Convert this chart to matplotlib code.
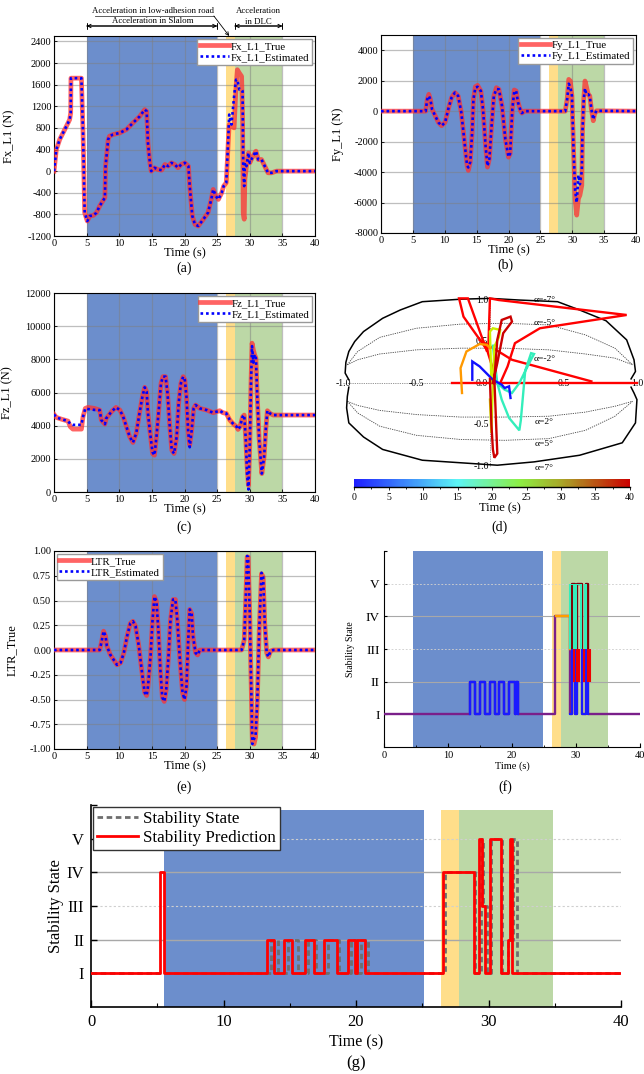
import matplotlib.pyplot as plt
import matplotlib.transforms as mtransforms
from matplotlib.colors import LinearSegmentedColormap, Normalize
from matplotlib.cm import ScalarMappable
from matplotlib.patches import Rectangle
from matplotlib.ticker import MultipleLocator, FormatStrFormatter

plt.rcParams['font.family'] = ['Liberation Serif', 'DejaVu Serif']
plt.rcParams['mathtext.fontset'] = 'stix'
plt.rcParams['axes.unicode_minus'] = False

# ---------------- data ----------------
t_fx = [0, 0.36, 0.87, 1.9, 2.4, 2.56, 2.6, 4.2, 4.45, 4.7, 5.1, 5.5, 6.0, 6.5, 7.0, 7.8, 7.9, 8.3,
        8.5, 9.05, 10.1, 11.1, 12.1, 13.15, 13.9, 14.2, 14.4, 14.7, 14.9, 15.4, 15.9, 16.5, 17.0,
        17.5, 18.0, 18.5, 19.0, 19.5, 20.05, 20.6, 20.8, 21.2, 21.6, 22.1, 22.9, 23.6, 24.1, 24.4,
        24.8, 25.2, 25.7, 26.0, 26.4, 26.7, 26.85, 27.2, 27.6, 27.9, 28.1, 28.4, 28.75, 28.9, 29.0,
        29.15, 29.25, 29.5, 29.8, 30.0, 30.5, 30.95, 31.3, 31.8, 32.3, 32.8, 33.35, 34.1, 40]
fx_true = [0, 400, 585, 830, 954, 1077, 1720, 1720, 708, -770, -923, -830, -820, -770, -646, -490,
           92, 585, 646, 677, 708, 770, 892, 1015, 1138, 1108, 523, 154, 0, 62, 31, 18, 123, 92,
           154, 123, 62, 123, 154, 92, -277, -830, -985, -1015, -890, -770, -523, -338, -461, -523,
           -400, -277, -215, 523, 862, 830, 800, 1570, 1877, 1815, 1754, 1015, -770, -890, -154,
           92, 338, 154, 277, 370, 215, 215, 92, -31, -31, 0, 0]
fx_est = [0, 400, 585, 830, 954, 1077, 1720, 1720, 708, -770, -923, -830, -820, -770, -646, -490,
          92, 585, 646, 677, 708, 770, 892, 1015, 1138, 1108, 523, 154, 0, 62, 31, 18, 123, 92,
          154, 123, 62, 123, 154, 92, -277, -830, -985, -1015, -890, -770, -523, -338, -461, -523,
          -400, -277, -215, 585, 1046, 862, 1385, 1692, 1692, 1508, 1508, 1480, 92, -277, 154,
          92, 338, 154, 277, 370, 215, 215, 92, -31, -31, 0, 0]

t_fy = [0, 7.0, 7.25, 7.5, 7.75, 8.0, 8.5, 9.0, 9.5, 10.05, 10.55, 11.07, 11.6, 12.1, 12.6, 13.1,
        13.5, 13.7, 14.0, 14.3, 14.5, 14.8, 15.15, 15.66, 16.0, 16.4, 16.7, 17.0, 17.35, 17.7,
        18.1, 18.5, 18.98, 19.5, 20.0, 20.25, 20.6, 20.9, 21.2, 21.5, 21.9, 22.1, 22.5, 28.9,
        29.2, 29.45, 29.7, 29.95, 30.2, 30.45, 30.7, 30.97, 31.2, 31.5, 31.6, 31.8, 32.0, 32.2,
        32.5, 32.75, 33.0, 33.3, 33.5, 33.8, 40]
fy_true = [0, 0, 783, 1109, 783, 130, -304, -739, -957, -739, 130, 891, 1217, 1000, -87, -2043,
           -3565, -3891, -3348, -1391, 783, 1609, 1696, 1326, 130, -2261, -3674, -3130, -957,
           1000, 1543, 1435, 348, -1826, -3022, -2804, 130, 1391, 1326, 565, 22, -130, 0, 0, 783,
           2087, 1978, 1000, -2478, -5739, -6826, -5739, -5522, -4870, -1391, 783, 1978, 1652,
           1109, 1000, 130, -630, -196, 22, 0]
fy_est = [0, 0, 783, 1000, 783, 130, -304, -739, -957, -739, 130, 891, 1217, 1000, -87, -2043,
          -3565, -3700, -3348, -1391, 783, 1550, 1600, 1326, 130, -2261, -3600, -3130, -957,
          1000, 1450, 1435, 348, -1826, -3000, -2804, 130, 1300, 1326, 565, 22, -130, 0, 0, 783,
          1800, 1600, 1000, -2478, -5200, -6000, -4200, -4800, -3900, -1391, 783, 1500, 1100,
          1109, 1000, 130, -550, -196, 22, 0]

t_fz = [0, 0.36, 1.1, 2.15, 2.5, 2.9, 4.2, 4.45, 4.8, 5.2, 6.2, 7.0, 7.25, 7.8, 8.0, 8.8, 9.5, 10.1,
        10.6, 11.1, 11.6, 12.1, 12.6, 13.1, 13.55, 13.9, 14.2, 14.4, 14.8, 15.1, 15.4, 15.7, 16.1,
        16.4, 16.7, 17.1, 17.4, 17.75, 18.05, 18.4, 18.8, 19.1, 19.45, 19.8, 20.05, 20.3, 20.55,
        20.8, 21.1, 21.4, 21.7, 22.35, 23.4, 24.4, 24.9, 25.4, 25.9, 26.4, 26.95, 27.5, 28.0,
        28.2, 28.5, 28.9, 29.15, 29.4, 29.6, 29.8, 30.0, 30.2, 30.35, 30.55, 30.75, 30.95, 31.15,
        31.45, 31.85, 32.2, 32.45, 32.7, 33.1, 33.6, 40]
fz_true = [4679, 4498, 4397, 4276, 3933, 3792, 3792, 4538, 5042, 5103, 5042, 4941, 4336, 4094,
           4437, 4841, 5103, 4941, 4538, 3933, 3328, 2985, 3530, 4740, 5749, 6313, 6051, 4740,
           3328, 2319, 2219, 3328, 5143, 6555, 6958, 6958, 5950, 3933, 2521, 2319, 3328, 5345,
           6555, 6958, 6757, 5749, 3731, 2824, 3731, 5042, 5244, 5042, 4941, 4780, 4841, 4901,
           4780, 4740, 4336, 4094, 3933, 3772, 3933, 4538, 4639, 3126, 1513, 403, 2723, 6757,
           8975, 8572, 8269, 8068, 5749, 3126, 1109, 2118, 3731, 4901, 4740, 4639, 4639]
fz_est = [4679, 4498, 4397, 4276, 4100, 4050, 4050, 4538, 5042, 5000, 4950, 4941, 4336, 4094,
          4437, 4841, 5103, 4941, 4538, 3933, 3328, 2985, 3530, 4740, 5749, 6313, 6051, 4740,
          3328, 2400, 2219, 3328, 5143, 6555, 6958, 6958, 5950, 3933, 2521, 2319, 3328, 5345,
          6555, 6958, 6757, 5749, 3731, 2700, 3731, 5042, 5244, 5042, 4941, 4780, 4841, 4901,
          4780, 4740, 4336, 4094, 3933, 3772, 3933, 4538, 4639, 3126, 1000, 150, 2723, 6757,
          8800, 7800, 8300, 8068, 5749, 3126, 1109, 2118, 3731, 4901, 4740, 4639, 4639]

t_ltr = [0, 7.0, 7.25, 7.6, 7.9, 8.1, 8.65, 9.15, 9.65, 10.2, 10.7, 11.2, 11.7, 12.1, 12.5, 13.0,
         13.55, 13.9, 14.2, 14.4, 14.8, 15.1, 15.4, 15.7, 16.0, 16.3, 16.6, 16.9, 17.2, 17.55,
         17.85, 18.25, 18.6, 18.9, 19.3, 19.7, 20.0, 20.3, 20.55, 20.8, 21.1, 21.3, 21.7, 22.0,
         22.35, 28.75, 29.15, 29.4, 29.6, 29.75, 30.0, 30.2, 30.4, 30.65, 30.9, 31.15, 31.45,
         31.8, 32.05, 32.3, 32.6, 32.85, 33.2, 33.6, 40]
ltr_true = [0, 0, 0.07, 0.19, 0.14, 0.04, -0.05, -0.10, -0.15, -0.13, -0.03, 0.14, 0.27, 0.29,
            0.24, 0.04, -0.26, -0.43, -0.46, -0.37, -0.06, 0.30, 0.54, 0.49, 0.20, -0.20, -0.48,
            -0.52, -0.40, -0.06, 0.30, 0.51, 0.51, 0.30, -0.10, -0.43, -0.50, -0.37, 0.07, 0.41,
            0.37, 0.14, -0.03, -0.05, 0, 0, 0.10, 0.54, 0.94, 0.94, 0.37, -0.30, -0.93, -0.95,
            -0.88, -0.53, 0.20, 0.77, 0.74, 0.27, -0.03, -0.07, -0.01, 0, 0]
ltr_est = [0, 0, 0.07, 0.19, 0.14, 0.04, -0.05, -0.10, -0.15, -0.13, -0.03, 0.14, 0.27, 0.29,
           0.24, 0.04, -0.26, -0.43, -0.46, -0.37, -0.06, 0.30, 0.54, 0.49, 0.20, -0.20, -0.48,
           -0.52, -0.40, -0.06, 0.30, 0.51, 0.51, 0.30, -0.10, -0.43, -0.50, -0.37, 0.07, 0.41,
           0.37, 0.14, -0.03, -0.05, 0, 0, 0.10, 0.54, 0.95, 0.94, 0.37, -0.30, -0.95, -0.90,
           -0.86, -0.53, 0.20, 0.78, 0.74, 0.27, -0.03, -0.07, -0.01, 0, 0]

# (d) stability-region boundary, iso-slip curves and the trajectory pieces
bnd_up_x = [-0.96, -0.985, -0.98, -0.96, -0.92, -0.86, -0.73, -0.61, -0.46, -0.2, 0.0, 0.2, 0.46,
            0.61, 0.79, 0.93, 0.98, 0.99, 0.96]
bnd_up_y = [0.04, 0.12, 0.25, 0.38, 0.5, 0.62, 0.78, 0.88, 0.98, 1.01, 1.02, 1.0, 0.98, 0.88,
            0.75, 0.52, 0.28, 0.14, 0.05]
bnd_lo_x = [-0.96, -0.97, -0.975, -0.96, -0.86, -0.73, -0.46, -0.12, 0.05, 0.3, 0.61, 0.9, 0.99,
            1.0, 0.98, 0.96]
bnd_lo_y = [-0.05, -0.16, -0.3, -0.48, -0.65, -0.8, -0.93, -0.97, -0.99, -0.95, -0.87, -0.72,
            -0.48, -0.2, -0.12, -0.05]
iso_x = [-0.97, -0.9, -0.75, -0.5, -0.2, 0.1, 0.4, 0.65, 0.85, 0.97]
iso_curves_y = [
    [0.22, 0.38, 0.55, 0.66, 0.71, 0.72, 0.70, 0.58, 0.42, 0.22],
    [0.22, 0.28, 0.35, 0.40, 0.42, 0.42, 0.40, 0.35, 0.30, 0.22],
    [-0.22, -0.27, -0.33, -0.38, -0.41, -0.41, -0.40, -0.35, -0.28, -0.22],
    [-0.22, -0.36, -0.52, -0.63, -0.68, -0.69, -0.67, -0.57, -0.40, -0.22],
]
iso_labels = ['α=-7°', 'α=-5°', 'α=-2°', 'α=2°', 'α=5°', 'α=7°']
iso_label_y = [1.0, 0.72, 0.29, -0.47, -0.74, -1.02]

traj_pieces = [
    ('#ff0000', [-0.26, 1.0], [0.0, 0.0]),
    ('#ff0000', [0.05, -0.02, -0.18, -0.21, -0.15, -0.02, -0.01, 0.0, 0.06, 0.93, 0.34, 0.17, 0.12, 0.07],
                [0.0, 0.4, 0.8, 1.02, 1.02, 0.38, 0.48, 1.02, 1.0, 0.82, 0.66, 0.48, 0.2, 0.0]),
    ('#ff0000', [-0.07, 0.15, 0.69], [0.52, 0.28, 0.02]),
    ('#33eebb', [0.02, 0.05, 0.08, 0.13, 0.2, 0.21, 0.24, 0.28, 0.3, 0.27, 0.2, 0.15, 0.1, 0.05],
                [0.45, 0.0, -0.2, -0.42, -0.57, -0.45, 0.15, 0.36, 0.35, 0.25, 0.0, -0.12, -0.08, 0.0]),
    ('#ccee00', [0.01, 0.0, 0.02, 0.07, 0.06, 0.03, 0.02, 0.01, 0.0],
                [0.0, 0.62, 0.66, 0.64, 0.55, 0.44, 0.0, -0.6, -0.2]),
    ('#ff9900', [-0.19, -0.2, -0.16, -0.07, -0.02, 0.0], [-0.12, 0.18, 0.38, 0.47, 0.46, 0.42]),
    ('#1010ff', [-0.12, -0.12, -0.07, 0.02, 0.08, 0.10, 0.13, 0.14],
                [0.04, 0.26, 0.2, 0.04, -0.02, -0.06, -0.04, -0.18]),
    ('#cc0000', [0.0, 0.01, 0.02, 0.03, 0.05, 0.04, 0.03, 0.05, 0.08, 0.14, 0.15, 0.09, 0.05, 0.02],
                [0.05, -0.5, -0.8, -0.9, -0.85, -0.4, 0.05, 0.52, 0.76, 0.8, 0.74, 0.6, 0.24, 0.0]),
]
cbar_colors = [(0.0, '#1e1eff'), (0.375, '#5cf5f5'), (0.6, '#8cee44'), (0.75, '#a8a828'),
               (1.0, '#cc0000')]

# (f) stability state coloured by time
f_t = [0, 13.4, 14.2, 15.0, 15.8, 16.5, 17.3, 18.0, 18.8, 19.6, 20.4, 20.6, 21.0, 26.7, 29.1,
       29.4, 29.9, 30.2, 31.0, 31.6, 31.9, 40]
f_v = [1, 2, 1, 2, 1, 2, 1, 2, 1, 2, 1, 2, 1, 4, 1, 5, 1, 5, 1, 5, 1, 1]
f_orange_t = [26.8, 29.1, 29.1]
f_orange_v = [4, 4, 3]

# (g) stability state vs prediction
g_state_t = [0, 13.6, 14.1, 14.9, 15.6, 16.4, 17.0, 17.9, 18.7, 19.6, 20.1, 20.4, 20.9, 26.75,
             29.0, 29.4, 29.6, 29.85, 30.2, 31.0, 31.5, 31.85, 32.15, 40]
g_state_v = [1, 2, 1, 2, 1, 2, 1, 2, 1, 2, 1, 2, 1, 4, 1, 5, 3, 1, 5, 1, 2, 5, 1, 1]
g_pred_t = [0, 5.2, 5.5, 13.3, 13.8, 14.6, 15.2, 16.15, 16.8, 17.6, 18.6, 19.4, 19.9, 20.05,
            20.65, 26.55, 28.9, 29.3, 29.5, 29.75, 30.1, 30.95, 31.45, 31.65, 31.8, 40]
g_pred_v = [1, 4, 1, 2, 1, 2, 1, 2, 1, 2, 1, 2, 1, 2, 1, 4, 1, 5, 3, 1, 5, 1, 2, 5, 1, 1]
state_labels = ['I', 'II', 'III', 'IV', 'V']

BLUE, YELLOW, GREEN = '#6c8ecc', '#ffde8a', '#bcd8a6'
spans_ts = [(5, 25, BLUE), (26.3, 27.7, YELLOW), (27.7, 35, GREEN)]
spans_f = [(4.5, 24.8, BLUE), (26.2, 27.6, YELLOW), (27.6, 35, GREEN)]
spans_g = [(5.5, 25.1, BLUE), (26.4, 27.8, YELLOW), (27.8, 34.9, GREEN)]

# ---------------- figure ----------------
W, H = 644, 1074
fig = plt.figure(figsize=(W / 100, H / 100), dpi=100)


def px_axes(l, t, r, b):
    return fig.add_axes([l / W, 1 - b / H, (r - l) / W, (b - t) / H])


def px_text(x, y, s, size, **kw):
    fig.text(x / W, 1 - y / H, s, fontsize=size, ha='center', va='center', **kw)


def series_panel(ax, t, y_true, y_est, names, ylim, yticks, ylabel, loc, ylab_x):
    for a, b, c in spans_ts:
        ax.axvspan(a, b, color=c, lw=0, zorder=0)
    ax.plot(t, y_true, color='#ff3030', lw=3.4, alpha=0.75, label=names[0], zorder=3)
    ax.plot(t, y_est, color='#0000ff', lw=1.9, ls=(0, (1, 1.1)), label=names[1], zorder=4)
    ax.set_xlim(0, 40)
    ax.set_ylim(*ylim)
    ax.set_xticks(range(0, 41, 5))
    ax.set_yticks(yticks)
    ax.grid(True, color='#7f7f7f', alpha=0.5, lw=0.9)
    ax.tick_params(labelsize=7.5, direction='in', length=2, width=0.6, pad=2)
    for s in ax.spines.values():
        s.set_linewidth(0.8)
    ax.set_ylabel(ylabel, fontsize=9)
    ax.yaxis.set_label_coords(ylab_x, 0.5)
    ax.set_xlabel('Time (s)', fontsize=9, labelpad=0)
    ax.legend(loc=loc, fontsize=7.8, fancybox=False, edgecolor='#999999', framealpha=1,
              handlelength=2.7, borderpad=0.25, labelspacing=0.15, handletextpad=0.2,
              borderaxespad=0.25)


# (a)
ax_a = px_axes(54, 36, 315, 236)
series_panel(ax_a, t_fx, fx_true, fx_est, ['Fx_L1_True', 'Fx_L1_Estimated'], (-1200, 2500),
             range(-1200, 2401, 400), 'Fx_L1 (N)', 'upper right', -0.15)
px_text(184, 268, '(a)', 10)
tr = ax_a.get_xaxis_transform()
for x0, x1 in [(5, 25), (27.7, 35)]:
    ax_a.annotate('', xy=(x0, 1.05), xytext=(x1, 1.05), xycoords=tr, textcoords=tr,
                  arrowprops=dict(arrowstyle='<->', lw=0.7, color='k', shrinkA=0, shrinkB=0,
                                  mutation_scale=6), annotation_clip=False)
    ax_a.annotate('', xy=(x0, 1.05), xytext=(x1, 1.05), xycoords=tr, textcoords=tr,
                  arrowprops=dict(arrowstyle='|-|,widthA=0.2,widthB=0.2', lw=0.7, color='k',
                                  shrinkA=0, shrinkB=0), annotation_clip=False)
ax_a.text(15.2, 1.075, 'Acceleration in Slalom', transform=tr, ha='center', va='center', fontsize=6.3)
ax_a.text(15.2, 1.125, 'Acceleration in low-adhesion road', transform=tr, ha='center', va='center',
          fontsize=6.3)
ax_a.plot([6.3, 24.5], [1.1, 1.1], transform=tr, color='#444444', lw=0.6, clip_on=False)
ax_a.annotate('', xy=(26.85, 1.0), xytext=(24.5, 1.1), xycoords=tr, textcoords=tr,
              arrowprops=dict(arrowstyle='->', lw=0.6, color='k', shrinkA=0, shrinkB=0,
                              mutation_scale=6), annotation_clip=False)
ax_a.text(31.35, 1.125, 'Acceleration', transform=tr, ha='center', va='center', fontsize=6.3)
ax_a.text(31.35, 1.072, 'in DLC', transform=tr, ha='center', va='center', fontsize=6.3)

# (b)
ax_b = px_axes(381, 35, 636, 233)
series_panel(ax_b, t_fy, fy_true, fy_est, ['Fy_L1_True', 'Fy_L1_Estimated'], (-8000, 5000),
             range(-8000, 4001, 2000), 'Fy_L1 (N)', 'upper right', -0.145)
px_text(505, 265, '(b)', 10)

# (c)
ax_c = px_axes(54, 293, 315, 492)
series_panel(ax_c, t_fz, fz_true, fz_est, ['Fz_L1_True', 'Fz_L1_Estimated'], (0, 12000),
             range(0, 12001, 2000), 'Fz_L1 (N)', 'upper right', -0.155)
px_text(184, 527, '(c)', 10)

# (e)
ax_e = px_axes(54, 551, 315, 749)
series_panel(ax_e, t_ltr, ltr_true, ltr_est, ['LTR_True', 'LTR_Estimated'], (-1, 1),
             [-1, -0.75, -0.5, -0.25, 0, 0.25, 0.5, 0.75, 1], 'LTR_True', 'upper left', -0.14)
ax_e.yaxis.set_major_formatter(FormatStrFormatter('%.2f'))
px_text(184, 787, '(e)', 10)

# (d)
ax_d = px_axes(330, 288, 644, 475)
ax_d.set_xlim(-1.088, 1.048)
ax_d.set_ylim(-1.108, 1.145)
ax_d.axis('off')
for cy in iso_curves_y:
    ax_d.plot(iso_x, cy, color='#444444', lw=0.6, ls=(0, (1.5, 1.2)), zorder=1)
ax_d.plot([-1, 1], [0, 0], color='#888888', lw=0.6, ls=(0, (1.5, 1.2)), zorder=1)
ax_d.plot([0, 0], [-1, 1], color='#888888', lw=0.6, ls=(0, (1.5, 1.2)), zorder=1)
ax_d.plot(bnd_up_x, bnd_up_y, color='k', lw=1.1, zorder=2)
ax_d.plot(bnd_lo_x, bnd_lo_y, color='k', lw=1.1, zorder=2)
for lab, ly in zip(iso_labels, iso_label_y):
    ax_d.text(0.37, ly, lab, fontsize=6.8, ha='center', va='center', zorder=2)
for v in [-1.0, -0.5, 0.5, 1.0]:
    ax_d.text(v, 0, f'{v:.1f}', fontsize=7, ha='center', va='center', zorder=2)
for v in [1.0, 0.5, 0.0, -0.5, -1.0]:
    ax_d.text(-0.055, v, f'{v:.1f}', fontsize=7, ha='center', va='center', zorder=2)
for col, xs, ys in traj_pieces:
    ax_d.plot(xs, ys, color=col, lw=1.7, zorder=3, solid_joinstyle='miter')

cmap = LinearSegmentedColormap.from_list('time', cbar_colors)
ax_cb = px_axes(354, 479, 630, 487)
cb = fig.colorbar(ScalarMappable(norm=Normalize(0, 40), cmap=cmap), cax=ax_cb,
                  orientation='horizontal')
cb.outline.set_visible(False)
cb.set_ticks(range(0, 41, 5))
cb.ax.xaxis.set_minor_locator(MultipleLocator(2.5))
cb.ax.tick_params(which='both', labelsize=7, direction='out', length=2.5, width=0.6, pad=2)
cb.ax.tick_params(which='minor', length=1.5)
cb.ax.axhline(0, color='k', lw=1.0, clip_on=False)
px_text(500, 508, 'Time (s)', 9)
px_text(500, 527, '(d)', 10)


def state_axes(ax, spans, top_frac, grid_lw):
    for a, b, c in spans:
        ax.axvspan(a, b, ymax=top_frac, color=c, lw=0, zorder=0)
    for lv in [2, 4]:
        ax.axhline(lv, color='#a8a8a8', lw=grid_lw, zorder=1)
    for lv in [3, 5]:
        ax.axhline(lv, color='#cfcfcf', lw=grid_lw * 0.8, ls=(0, (2, 2)), zorder=1)
    ax.set_xlim(0, 40)
    ax.set_ylim(0, 6)
    ax.set_xticks(range(0, 41, 10))
    ax.xaxis.set_minor_locator(MultipleLocator(5))
    ax.set_yticks([1, 2, 3, 4, 5, 6])
    ax.set_yticklabels(state_labels + [''])
    ax.spines['top'].set_visible(False)
    ax.spines['right'].set_visible(False)


# (f)
ax_f = px_axes(384, 551, 640, 747)
state_axes(ax_f, spans_f, 1.0, 0.8)
ax_f.plot(f_t, f_v, drawstyle='steps-post', color='#7a1f8a', lw=1.7, zorder=3)
ax_f.plot([f_t[1]] + f_t[1:13], [f_v[0]] + f_v[1:13], drawstyle='steps-post', color='#1a1aff',
          lw=1.7, zorder=4)
ax_f.plot(f_orange_t, f_orange_v, color='#ff9f00', lw=1.7, zorder=4)
i0, i1 = f_t.index(29.1), f_t.index(31.9) + 1
dlc_t, dlc_v = f_t[i0:i1], f_v[i0:i1]
for col, y0, y1, dx, z in [('#800000', 3, 6, 0, 4), ('#1a1aff', 0, 3, 0, 4),
                           ('#ee0000', 2, 3, 1.2, 5), ('#33eebb', 3, 5, -1.2, 5)]:
    trf = ax_f.transData + mtransforms.ScaledTranslation(dx / 72, 0, fig.dpi_scale_trans)
    ln, = ax_f.plot(dlc_t, dlc_v, drawstyle='steps-post', color=col, lw=1.5, zorder=z,
                    transform=trf)
    ln.set_clip_path(Rectangle((0, y0), 40, y1 - y0, transform=ax_f.transData))
ax_f.tick_params(axis='x', which='major', labelsize=7.5, direction='in', length=3, width=0.8, pad=3)
ax_f.tick_params(axis='x', which='minor', direction='in', length=1.8, width=0.6)
ax_f.tick_params(axis='y', labelsize=9.5, direction='in', length=2.5, width=0.8, pad=3)
ax_f.set_xlabel('Time (s)', fontsize=7.5, labelpad=1)
ax_f.set_ylabel('Stability State', fontsize=7)
ax_f.yaxis.set_label_coords(-0.115, 0.5)
px_text(505, 787, '(f)', 10)

# (g)
ax_g = px_axes(91, 805, 621, 1007)
state_axes(ax_g, spans_g, 0.975, 1.0)
ax_g.plot(g_state_t, g_state_v, drawstyle='steps-post', color='#6e6e6e', lw=2.0,
          ls=(0, (2, 1.3)), label='Stability State', zorder=3)
ax_g.plot(g_pred_t, g_pred_v, drawstyle='steps-post', color='#ff0000', lw=2.0,
          label='Stability Prediction', zorder=4)
ax_g.tick_params(axis='x', which='major', labelsize=12, direction='in', length=5, width=1.0, pad=5)
ax_g.tick_params(axis='x', which='minor', direction='in', length=3, width=0.8)
ax_g.tick_params(axis='y', labelsize=12, direction='in', length=4, width=1.0, pad=5)
for s in ['left', 'bottom']:
    ax_g.spines[s].set_linewidth(1.2)
ax_g.set_xlabel('Time (s)', fontsize=11.5, labelpad=3)
ax_g.set_ylabel('Stability State', fontsize=12)
ax_g.yaxis.set_label_coords(-0.05, 0.5)
ax_g.legend(loc='upper left', fontsize=12.3, fancybox=False, edgecolor='#333333', framealpha=1,
            handlelength=2.4, borderpad=0.25, labelspacing=0.15, handletextpad=0.3,
            borderaxespad=0.1)
px_text(356, 1063, '(g)', 12)

fig.savefig('out.png', dpi=100)
